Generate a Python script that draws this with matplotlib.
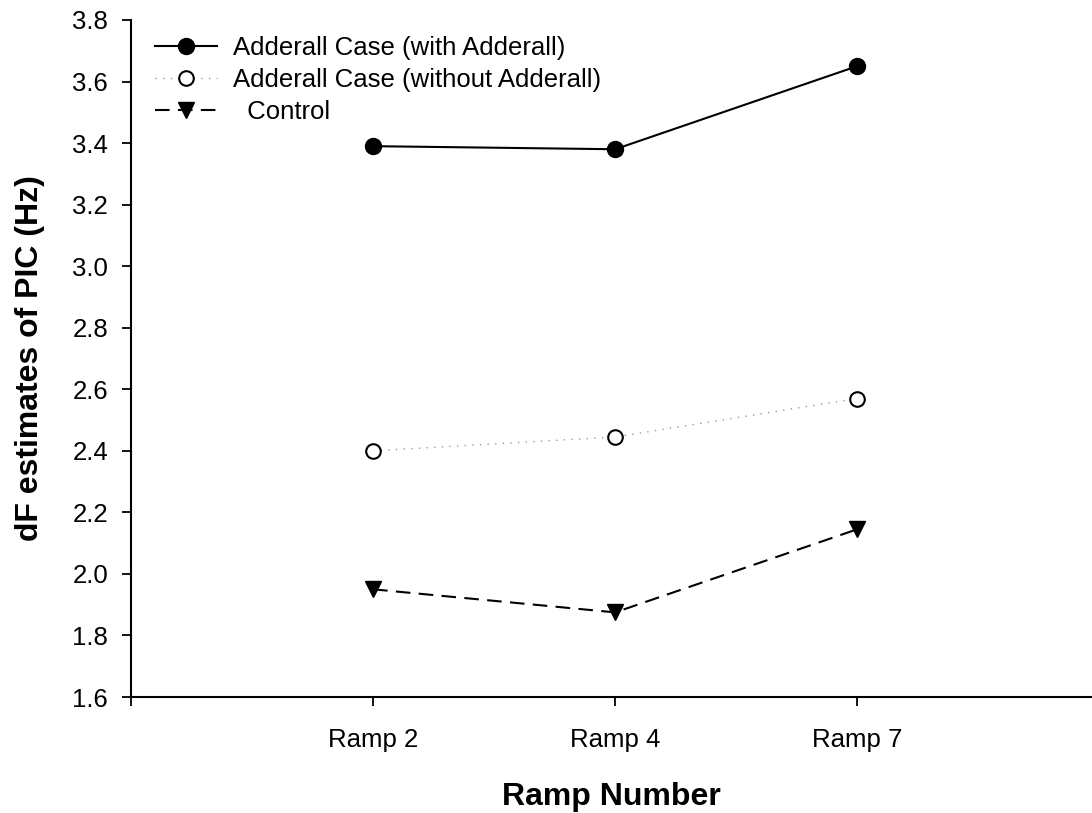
import matplotlib
matplotlib.use("Agg")
import matplotlib.pyplot as plt

plt.rcParams['font.family'] = ['Liberation Sans', 'DejaVu Sans']

ramps = ["Ramp 2", "Ramp 4", "Ramp 7"]
with_adderall = [3.39, 3.38, 3.65]
without_adderall = [2.40, 2.445, 2.57]
control = [1.95, 1.875, 2.145]
yticks = [1.6, 1.8, 2.0, 2.2, 2.4, 2.6, 2.8, 3.0, 3.2, 3.4, 3.6, 3.8]

fig = plt.figure(figsize=(10.92, 8.13), dpi=100)
ax = fig.add_axes([131/1092, 1 - 697/813, 961/1092, 677/813])

x = [1, 2, 3]
ax.plot(x, with_adderall, color='black', lw=1.5, marker='o', ms=11.5,
        mfc='black', mec='black', label='Adderall Case (with Adderall)')
ax.plot(x, without_adderall, color='#999999', lw=1.0, ls=(0, (1, 4.5)), marker='o', ms=10.5,
        mfc='white', mec='black', mew=1.5, label='Adderall Case (without Adderall)')
ax.plot(x, control, color='black', lw=1.5, ls=(0, (7, 4)), marker='v', ms=11.5,
        mfc='black', mec='black', label='  Control')

ax.set_xlim(0, 3.97)
ax.set_ylim(1.6, 3.8)
ax.set_xticks([0, 1, 2, 3])
ax.set_xticklabels([""] + ramps)
ax.set_yticks(yticks)
ax.set_yticklabels([f"{v:.1f}" for v in yticks])
ax.tick_params(axis='both', direction='out', length=6.5, width=1.3, labelsize=18.5)
ax.tick_params(axis='x', pad=16)
ax.tick_params(axis='y', pad=10)
for s in ['top', 'right']:
    ax.spines[s].set_visible(False)
for s in ['left', 'bottom']:
    ax.spines[s].set_linewidth(1.5)

ax.set_xlabel("Ramp Number", fontsize=23, fontweight='bold')
ax.set_ylabel("dF estimates of PIC (Hz)", fontsize=23, fontweight='bold')
ax.xaxis.label.set_va('center')
ax.yaxis.label.set_va('center')
ax.xaxis.set_label_coords(0.5, (697 - 797) / 677)
ax.yaxis.set_label_coords((30 - 131) / 961, 0.5)

leg = ax.legend(loc='upper left', bbox_to_anchor=(14 / 961, (697 - 26) / 677), frameon=False,
                fontsize=18.5, handlelength=2.4, handletextpad=0.62, labelspacing=0.3,
                borderaxespad=0.0)

fig.savefig("out.png", dpi=100)
